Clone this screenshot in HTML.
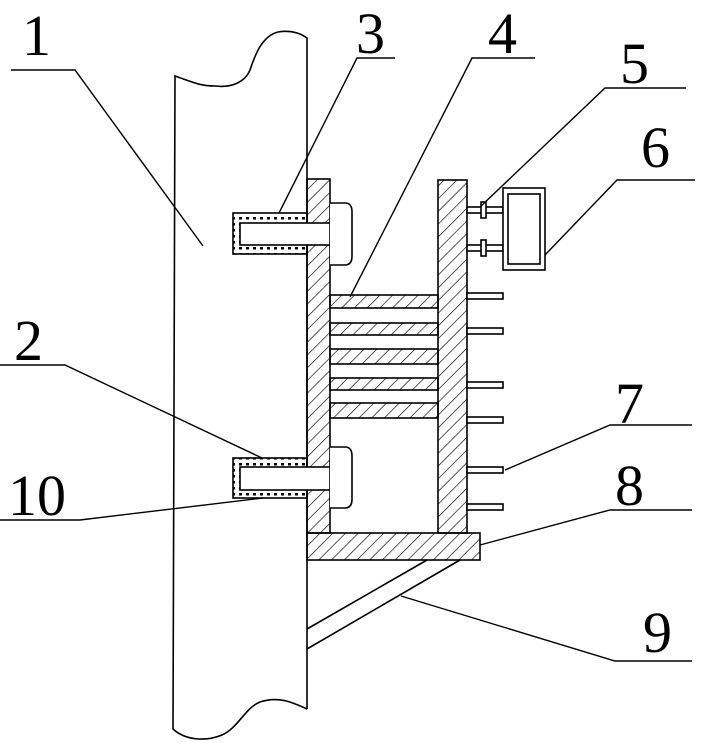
<!DOCTYPE html>
<html><head><meta charset="utf-8"><style>
html,body{margin:0;padding:0;background:#fff;}
svg{display:block;}
text{font-family:"Liberation Serif",serif;font-size:58px;fill:#000;}
</style></head><body>
<svg width="706" height="743" viewBox="0 0 706 743" xmlns="http://www.w3.org/2000/svg">
<defs>
<pattern id="h" width="9" height="9" patternUnits="userSpaceOnUse" patternTransform="rotate(45)">
<line x1="0" y1="0" x2="0" y2="9" stroke="#000" stroke-width="1.3"/>
</pattern>
<pattern id="d" width="7" height="6" patternUnits="userSpaceOnUse">
<rect x="1" y="1" width="3" height="2.5" fill="#000"/>
</pattern>
</defs>
<g fill="none" stroke="#000" stroke-width="1.6">
<!-- pole -->
<path d="M307 709 L307 38 C300 33 290 30 278 32 C262 36 255 55 250 70 C245 82 232 88 215 86 C200 86 192 82 175 76 L173 729 C185 740 205 742 222 735 C238 728 245 708 260 702 C278 696 292 702 307 709" fill="#fff"/>
</g>
<g stroke="#000" stroke-width="1.6">
<!-- left column -->
<rect x="307" y="179" width="23" height="354" fill="url(#h)"/>
<!-- right column -->
<rect x="438" y="180" width="29" height="353" fill="url(#h)"/>
<!-- base plate -->
<rect x="307" y="533" width="173" height="27" fill="url(#h)"/>
<!-- plates 4 -->
<rect x="330" y="295" width="108" height="13" fill="url(#h)"/>
<rect x="330" y="323" width="108" height="12" fill="url(#h)"/>
<rect x="330" y="349" width="108" height="15" fill="url(#h)"/>
<rect x="330" y="378" width="108" height="12" fill="url(#h)"/>
<rect x="330" y="403" width="108" height="15" fill="url(#h)"/>
<!-- bolts -->
<rect x="233" y="213" width="74" height="41" fill="url(#d)"/>
<rect x="240" y="223" width="90" height="22" fill="#fff"/>
<path d="M330 203 L345 203 Q352 203 352 212 L352 256 Q352 265 345 265 L330 265" fill="#fff"/>
<rect x="233" y="458" width="74" height="40" fill="url(#d)"/>
<rect x="240" y="467" width="90" height="23" fill="#fff"/>
<path d="M330 447 L345 447 Q352 447 352 456 L352 499 Q352 508 345 508 L330 508" fill="#fff"/>
<!-- pins 7 -->
<g fill="#fff">
<rect x="467" y="293" width="36" height="6"/>
<rect x="467" y="328" width="36" height="6"/>
<rect x="467" y="382" width="36" height="6"/>
<rect x="467" y="417" width="36" height="6"/>
<rect x="467" y="467" width="36" height="6"/>
<rect x="467" y="504" width="36" height="6"/>
<!-- connectors 5 -->
<rect x="467" y="207" width="36" height="6"/>
<rect x="467" y="245" width="36" height="6"/>
<rect x="481" y="202" width="5" height="16"/>
<rect x="481" y="240" width="5" height="16"/>
<!-- box 6 -->
<rect x="503" y="188" width="42" height="82"/>
<rect x="508" y="194" width="32" height="70"/>
</g>
<!-- brace -->
<line x1="307" y1="629" x2="427" y2="560"/>
<line x1="307" y1="649" x2="460" y2="560"/>
</g>
<g stroke="#000" stroke-width="1.4" fill="none">
<polyline points="11,70 75,70 203,246"/>
<polyline points="395,58 357,58 279,213"/>
<polyline points="535,58 472,58 350,297"/>
<polyline points="686,88 605,88 480,207"/>
<polyline points="695,180 617,180 545,255"/>
<polyline points="0,365 65,365 262,458"/>
<polyline points="0,520 80,520 263,498"/>
<polyline points="692,425 610,425 505,470"/>
<polyline points="692,510 610,510 480,545"/>
<polyline points="692,661 615,661 401,596"/>
</g>
<text x="22" y="55">1</text>
<text x="356" y="53">3</text>
<text x="488" y="53">4</text>
<text x="620" y="83">5</text>
<text x="641" y="167">6</text>
<text x="14" y="360">2</text>
<text x="8" y="515">10</text>
<text x="615" y="423">7</text>
<text x="615" y="505">8</text>
<text x="643" y="652">9</text>
</svg>
</body></html>
